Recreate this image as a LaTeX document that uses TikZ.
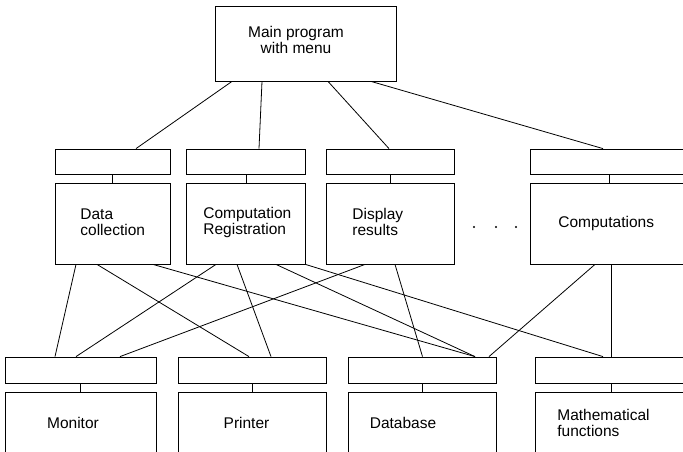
\documentclass[tikz,border=0pt]{standalone}
\usepackage{fontspec}
\setmainfont{Liberation Sans}
\usepackage{tikz}

\begin{document}
\begin{tikzpicture}[x=1pt, y=-1pt, line width=0.8pt,
    hdr/.style={draw, inner sep=0pt, minimum height=25pt},
    box/.style={draw, inner sep=0pt},
    lbl/.style={inner sep=0pt, align=left, font=\fontsize{15.5}{16}\selectfont}]
         \useasboundingbox (0,0) rectangle (683,451);
         \clip (0,0) rectangle (683,451);
         % Main program
         \node [box, minimum width=181pt, minimum height=75pt] (main) at (305.5,43.5) {};
         \node [lbl, align=center] (tmain) at (296,40) {Main program\\with menu};
         % Modules
         \node [hdr, minimum width=115pt]   (h1) at (112.5,161.5) {};
         \node [hdr, minimum width=119pt]   (h2) at (246,161.5) {};
         \node [hdr, minimum width=128.5pt] (h3) at (390.25,161.5) {};
         \node [hdr, minimum width=157pt]   (h4) at (609,161.5) {};
         \node [box, minimum width=115pt,   minimum height=81pt] (b1) at (112.5,223.5) {};
         \node [box, minimum width=119pt,   minimum height=81pt] (b2) at (246,223.5) {};
         \node [box, minimum width=128.5pt, minimum height=81pt] (b3) at (390.25,223.5) {};
         \node [box, minimum width=157pt,   minimum height=81pt] (b4) at (609,223.5) {};
         \node [lbl, anchor=west] (tdata) at (80,222)  {Data\\collection};
         \node [lbl, anchor=west] (tcomp) at (203,222) {Computation\\Registration};
         \node [lbl, anchor=west] (tdisp) at (352,222) {Display\\results};
         \node [lbl, anchor=west] (tcalc) at (558,223) {Computations};
         \foreach \x in {474,496,516} \fill (\x,227) circle (1.1pt);
         % Resources
         \node [hdr, minimum width=150.5pt, minimum height=26pt] (r1) at (80.75,370) {};
         \node [hdr, minimum width=148pt,   minimum height=26pt] (r2) at (252,370) {};
         \node [hdr, minimum width=148pt,   minimum height=26pt] (r3) at (422,370) {};
         \node [hdr, minimum width=152pt,   minimum height=26pt] (r4) at (611,370) {};
         \node [box, minimum width=150.5pt, minimum height=78pt] (m1) at (80.75,431) {};
         \node [box, minimum width=148pt,   minimum height=78pt] (m2) at (252,431) {};
         \node [box, minimum width=148pt,   minimum height=78pt] (m3) at (422,431) {};
         \node [box, minimum width=152pt,   minimum height=78pt] (m4) at (611,431) {};
         \node [lbl] (tmon) at (73,423)    {Monitor};
         \node [lbl] (tprn) at (246.5,423) {Printer};
         \node [lbl] (tdb)  at (403,423)   {Database};
         \node [lbl, anchor=west] (tmath) at (557,422.5) {Mathematical\\functions};
         % Links
         \foreach \n in {1,2,3,4} {
           \draw (h\n.south) -- (b\n.north);
           \draw (r\n.south) -- (m\n.north);
         }
         \foreach \d/\t/\e in {-73.5/h1/23.5, -43.5/h2/13, 22.5/h3/-1.25, 65.5/h4/-6}
           \draw ([xshift=\d pt]main.south) -- ([xshift=\e pt]\t.north);
         \foreach \s/\d/\t/\e in {b1/-36.5/r1/-25.75, b1/-15.5/r2/-3, b1/40.5/r3/53,
                                  b2/-30/r1/-4.75, b2/-9/r2/19, b2/30/r3/53, b2/59.5/r4/-8,
                                  b3/-25.25/r1/39.25, b3/4.75/r3/0.5,
                                  b4/-14/r3/67, b4/2/r4/0}
           \draw ([xshift=\d pt]\s.south) -- ([xshift=\e pt]\t.north);
     \end{tikzpicture}
\end{document}
